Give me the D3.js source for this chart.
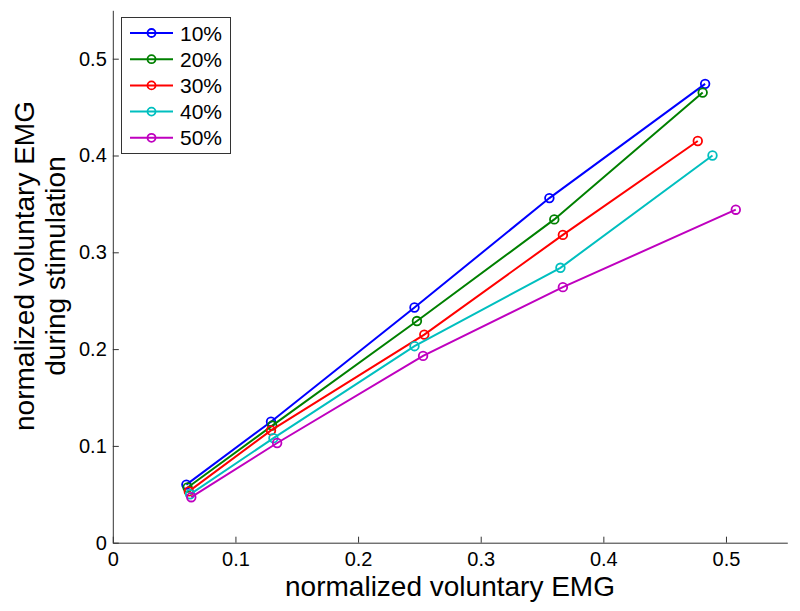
<!DOCTYPE html>
<html lang="en">
<head>
<meta charset="utf-8">
<title>Normalized voluntary EMG</title>
<script src="https://d3js.org/d3.v7.min.js"></script>
<style>
  body { margin: 0; background: #fff; }
  svg text { font-family: "Liberation Sans", Arial, Helvetica, sans-serif; fill: #000; }
</style>
</head>
<body>
<div id="chart"></div>
<script>
// series names and colours
var seriesNames = ["10%", "20%", "30%", "40%", "50%"];
var seriesColors = ["#0000ff", "#008000", "#ff0000", "#00bfbf", "#bf00bf"];

// x = normalized voluntary EMG, y = during stimulation
var x10 = [0.060, 0.129, 0.246, 0.356, 0.483], y10 = [0.060, 0.125, 0.243, 0.356, 0.474];
var x20 = [0.061, 0.130, 0.248, 0.360, 0.481], y20 = [0.057, 0.121, 0.229, 0.334, 0.465];
var x30 = [0.062, 0.129, 0.254, 0.367, 0.477], y30 = [0.053, 0.116, 0.215, 0.318, 0.415];
var x40 = [0.063, 0.131, 0.246, 0.365, 0.489], y40 = [0.050, 0.108, 0.203, 0.284, 0.400];
var x50 = [0.064, 0.134, 0.253, 0.367, 0.508], y50 = [0.047, 0.103, 0.193, 0.264, 0.344];

var xTicks = [0, 0.1, 0.2, 0.3, 0.4, 0.5];
var yTicks = [0, 0.1, 0.2, 0.3, 0.4, 0.5];

var xs = [x10, x20, x30, x40, x50], ys = [y10, y20, y30, y40, y50];
var series = seriesNames.map(function(name, i) {
  return { name: name, color: seriesColors[i], points: xs[i].map(function(v, j) { return [v, ys[i][j]]; }) };
});

var w = 800, h = 611;
var svg = d3.select("#chart").append("svg").attr("width", w).attr("height", h);

var x = d3.scaleLinear().domain([0, 0.55]).range([112.8, 787.3]);
var y = d3.scaleLinear().domain([0, 0.55]).range([542.7, 10.3]);
var fmt = function(d) { return d === 0 ? "0" : d3.format(".1f")(d); };

// axes, MATLAB style ticks pointing inward
var gx = svg.append("g")
  .attr("transform", "translate(0," + y(0) + ")")
  .call(d3.axisBottom(x).tickValues(xTicks).tickFormat(fmt).tickSizeInner(-6).tickSizeOuter(0).tickPadding(9));
var gy = svg.append("g")
  .attr("transform", "translate(" + x(0) + ",0)")
  .call(d3.axisLeft(y).tickValues(yTicks).tickFormat(fmt).tickSizeInner(-6).tickSizeOuter(0).tickPadding(6));
[gx, gy].forEach(function(g) {
  g.selectAll("path, line").attr("stroke", "#333");
  g.selectAll("text").attr("font-size", 20).attr("fill", "#000");
});

// lines and markers
var line = d3.line().x(function(d) { return x(d[0]); }).y(function(d) { return y(d[1]); });
var gs = svg.selectAll("g.series").data(series).join("g").attr("class", "series");
gs.append("path")
  .attr("d", function(d) { return line(d.points); })
  .attr("fill", "none")
  .attr("stroke", function(d) { return d.color; })
  .attr("stroke-width", 2);
gs.selectAll("circle")
  .data(function(d) { return d.points.map(function(p) { return { p: p, color: d.color }; }); })
  .join("circle")
  .attr("cx", function(d) { return x(d.p[0]); })
  .attr("cy", function(d) { return y(d.p[1]); })
  .attr("r", 4.3)
  .attr("fill", "none")
  .attr("stroke", function(d) { return d.color; })
  .attr("stroke-width", 1.8);

// axis titles
svg.append("text")
  .attr("x", 450).attr("y", 596)
  .attr("text-anchor", "middle")
  .attr("font-size", 28)
  .text("normalized voluntary EMG");
var yt = svg.append("text")
  .attr("transform", "translate(0,266) rotate(-90)")
  .attr("text-anchor", "middle")
  .attr("font-size", 28);
yt.append("tspan").attr("x", 0).attr("y", 34).text("normalized voluntary EMG");
yt.append("tspan").attr("x", 0).attr("y", 65).text("during stimulation");

// legend
var legend = svg.append("g");
legend.append("rect")
  .attr("x", 121.5).attr("y", 17.5).attr("width", 109).attr("height", 136)
  .attr("fill", "#fff").attr("stroke", "#333");
var li = legend.selectAll("g.item").data(series).join("g").attr("class", "item")
  .attr("transform", function(d, i) { return "translate(0," + (33 + i * 26.2) + ")"; });
li.append("line")
  .attr("x1", 130).attr("x2", 173)
  .attr("stroke", function(d) { return d.color; }).attr("stroke-width", 2);
li.append("circle")
  .attr("cx", 151.5).attr("r", 4)
  .attr("fill", "none").attr("stroke", function(d) { return d.color; }).attr("stroke-width", 1.8);
li.append("text")
  .attr("x", 180).attr("y", 7.5)
  .attr("font-size", 21)
  .text(function(d) { return d.name; });
</script>
</body>
</html>
